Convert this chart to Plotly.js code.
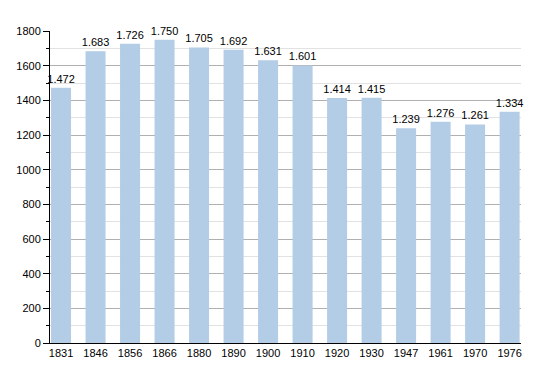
<!DOCTYPE html>
<html><head><meta charset="utf-8">
<script src="https://cdn.plot.ly/plotly-3.0.1.min.js"></script>
<style>html,body{margin:0;padding:0;background:#fff}#chart{width:550px;height:373px}</style>
</head><body><div id="chart"></div>
<script>
const years = ["1831","1846","1856","1866","1880","1890","1900","1910","1920","1930","1947","1961","1970","1976"];
const population = [1472,1683,1726,1750,1705,1692,1631,1601,1414,1415,1239,1276,1261,1334];
const labels = ["1.472","1.683","1.726","1.750","1.705","1.692","1.631","1.601","1.414","1.415","1.239","1.276","1.261","1.334"];

const trace = {
  type: "bar",
  x: years,
  y: population,
  text: labels,
  textposition: "outside",
  constraintext: "none",
  cliponaxis: false,
  outsidetextfont: {family: "Liberation Sans, Arial, sans-serif", size: 11, color: "#000"},
  textfont: {family: "Liberation Sans, Arial, sans-serif", size: 11, color: "#000"},
  marker: {color: "#b3cde6"},
  width: 0.58,
  hoverinfo: "none"
};

const layout = {
  width: 550, height: 373,
  margin: {l: 50, r: 29, t: 31, b: 30},
  paper_bgcolor: "#fff", plot_bgcolor: "#fff",
  showlegend: false,
  font: {family: "Liberation Sans, Arial, sans-serif", size: 11, color: "#000"},
  xaxis: {
    type: "category",
    range: [-0.32, 13.33],
    showgrid: false,
    showline: true, linecolor: "#000", linewidth: 1,
    ticks: "", ticklen: 0,
    tickfont: {size: 11},
    zeroline: false
  },
  yaxis: {
    range: [0, 1800],
    tick0: 0, dtick: 200,
    showgrid: true, gridcolor: "#b0b0b0", gridwidth: 1,
    showline: true, linecolor: "#000", linewidth: 1,
    ticks: "outside", ticklen: 6, tickcolor: "#000",
    tickfont: {size: 11},
    minor: {dtick: 100, showgrid: true, gridcolor: "#e2e2e2", ticks: "outside", ticklen: 3, tickcolor: "#000"},
    zeroline: false
  },
  bargap: 0.42
};

Plotly.newPlot("chart", [trace], layout, {staticPlot: true, displayModeBar: false});
</script></body></html>
